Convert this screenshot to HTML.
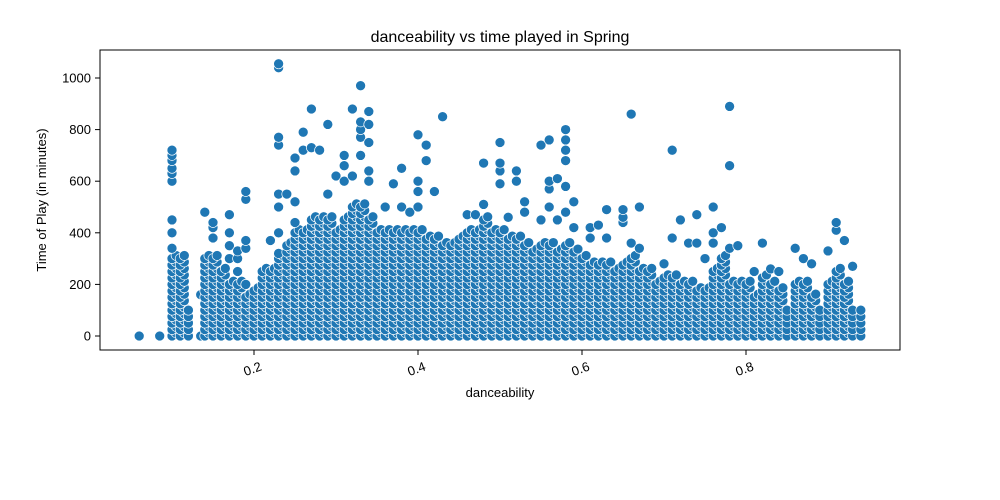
<!DOCTYPE html>
<html><head><meta charset="utf-8">
<style>
html,body{margin:0;padding:0;background:#fff;width:1000px;height:500px;overflow:hidden}
svg{display:block}
text{font-family:"Liberation Sans","DejaVu Sans",sans-serif;fill:#000}
</style></head>
<body>
<svg id="chart" width="1000" height="500">
<text x="500" y="42" text-anchor="middle" font-size="16">danceability vs time played in Spring</text>
<g id="points"></g>
<rect x="100" y="50" width="800" height="300" fill="none" stroke="#000" stroke-width="1"/>
<g id="xaxis"></g>
<g id="yaxis"></g>
<text x="500" y="397" text-anchor="middle" font-size="13">danceability</text>
<text transform="translate(46,200) rotate(-90)" text-anchor="middle" font-size="13">Time of Play (in minutes)</text>
</svg>
<script>
const danceCols = [0.06,0.085,0.10,0.11,0.12,0.135,0.14,0.15,0.16,0.17,0.18,0.19,0.20,0.21,0.22,0.23,0.24,0.25,0.26,0.27,0.28,0.29,0.30,0.31,0.32,0.33,0.34,0.35,0.36,0.37,0.38,0.39,0.40,0.41,0.42,0.43,0.44,0.45,0.46,0.47,0.48,0.49,0.50,0.51,0.52,0.53,0.54,0.55,0.56,0.57,0.58,0.59,0.60,0.61,0.62,0.63,0.64,0.65,0.66,0.67,0.68,0.69,0.70,0.71,0.72,0.73,0.74,0.75,0.76,0.77,0.78,0.79,0.80,0.81,0.82,0.83,0.84,0.85,0.86,0.87,0.88,0.89,0.90,0.91,0.92,0.93,0.94];
const denseTop = [0,0,300,300,100,0,300,300,250,200,200,150,180,250,250,300,350,400,400,450,470,450,400,470,500,500,450,420,400,400,420,400,420,380,380,350,350,380,400,420,450,400,400,380,380,350,330,350,350,330,350,330,300,280,280,280,250,280,300,250,250,220,230,230,200,200,180,180,250,300,200,220,200,150,230,200,180,120,200,220,150,120,200,250,200,100,110];
const outliers = [[],[],[340,400,450,600,630,650,680,700,720],[],[],[160],[480],[380,420,440],[],[300,350,400,470],[250,300,330],[200,340,370,530,560],[],[],[370],[320,400,500,550,740,770,1040,1055],[550],[440,520,640,690],[720,790],[730,880],[720],[550,820],[620],[600,660,700],[620,880],[700,770,800,830,970],[600,640,750,820,870],[],[500],[590],[500,650],[480],[500,560,600,780],[680,740],[560],[850],[],[],[470],[470],[510,670],[],[590,640,670,750],[460],[600,640],[480,520],[],[450,740],[500,570,600,760],[450,610],[480,580,680,720,760,800],[420,520],[],[380,420],[430],[380,490],[],[440,460,490],[360,860],[340,500],[],[],[280],[380,720],[450],[360],[360,470],[300],[360,400,500],[420],[340,660,890],[350],[],[250],[360],[260],[250],[],[340],[300],[280],[],[330],[410,440],[370],[270],[]];
const xTicks = [0.2,0.4,0.6,0.8];
const yTicks = [0,200,400,600,800,1000];

const NS='http://www.w3.org/2000/svg';
const X = d => 90 + d*820;
const Y = m => 336 - m*0.258;
const pg = document.getElementById('points');
function dot(d,m){
  const c=document.createElementNS(NS,'circle');
  c.setAttribute('cx',X(d).toFixed(1));
  c.setAttribute('cy',Y(m).toFixed(1));
  c.setAttribute('r',5);
  c.setAttribute('fill','#1f77b4');
  c.setAttribute('stroke','#fff');
  c.setAttribute('stroke-width',0.7);
  
  
  pg.appendChild(c);
}
danceCols.forEach((d,i)=>{
  for(let m=0;m<=denseTop[i];m+=25){dot(d,m); if(denseTop[i]>=150) dot(d+0.005,m+12);}
  outliers[i].forEach(m=>dot(d,m));
});
const xa=document.getElementById('xaxis');
xTicks.forEach(t=>{
  const l=document.createElementNS(NS,'line');
  l.setAttribute('x1',X(t));l.setAttribute('x2',X(t));l.setAttribute('y1',350);l.setAttribute('y2',355);l.setAttribute('stroke','#000');
  
  
  xa.appendChild(l);
  const tx=document.createElementNS(NS,'text');
  tx.setAttribute('transform',`translate(${X(t)},373) rotate(-20)`);
  tx.setAttribute('text-anchor','middle');tx.setAttribute('font-size','13');
  tx.textContent=t.toFixed(1);
  
  
  xa.appendChild(tx);
});
const ya=document.getElementById('yaxis');
yTicks.forEach(t=>{
  const l=document.createElementNS(NS,'line');
  l.setAttribute('x1',95);l.setAttribute('x2',100);l.setAttribute('y1',Y(t));l.setAttribute('y2',Y(t));l.setAttribute('stroke','#000');
  
  
  ya.appendChild(l);
  const tx=document.createElementNS(NS,'text');
  tx.setAttribute('x',91);tx.setAttribute('y',Y(t)+4.5);
  tx.setAttribute('text-anchor','end');tx.setAttribute('font-size','13');
  tx.textContent=t;
  
  
  ya.appendChild(tx);
});
</script>
</body></html>
